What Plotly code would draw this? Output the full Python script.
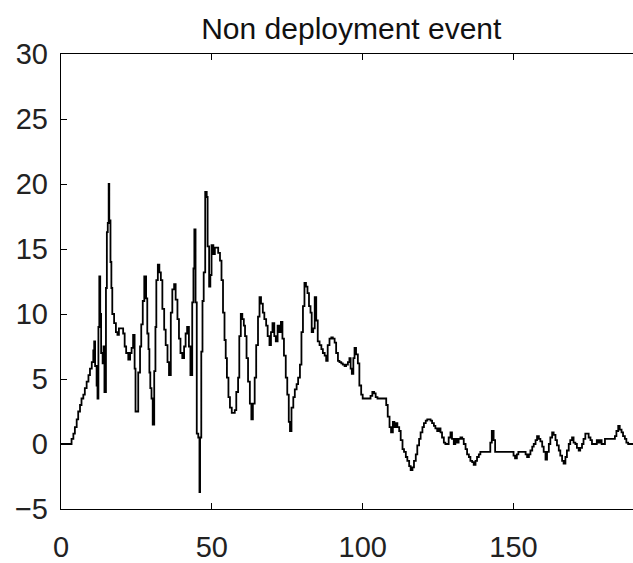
import plotly.graph_objects as go

# Signal samples: time stamps and values (held until the next sample)
t = [0, 3.5, 4.1, 4.6, 5.2, 5.7, 6.3, 6.8, 7.4, 7.9, 8.5, 9.1, 9.6, 10.2, 10.7, 11.0, 11.3, 11.8, 12.1, 12.4,
     12.7, 13.0, 13.3, 13.8, 14.1, 14.4, 14.9, 15.2, 15.5, 15.8, 16.0, 16.4, 16.7, 17.0, 17.6, 18.2, 18.7, 19.2,
     20.6, 21.1, 21.6, 22.3, 22.9, 23.4, 23.9, 24.4, 24.7, 25.6, 26.2, 26.6, 27.1, 27.6, 28.2, 28.6, 29.0, 29.3,
     29.6, 30.0, 30.4, 30.9, 31.3, 31.6, 32.1, 32.6, 33.1, 33.6, 34.2, 34.7, 35.3, 35.8, 36.4, 36.9, 37.5, 38.0,
     38.6, 39.1, 39.6, 40.2, 40.8, 41.3, 41.8, 42.4, 42.9, 43.5, 43.9, 44.2, 44.6, 45.0, 45.5, 45.9, 46.1, 46.5,
     46.9, 47.3, 47.8, 48.3, 48.6, 49.1, 49.5, 49.9, 50.5, 51.0, 52.1, 52.7, 53.2, 53.7, 54.2, 54.6, 55.0, 55.5,
     56.0, 56.6, 57.6, 58.1, 58.7, 59.1, 59.6, 60.1, 60.6, 61.0, 61.5, 62.0, 62.6, 63.1, 63.6, 64.2, 64.7, 65.3,
     65.8, 66.3, 66.9, 67.4, 68.0, 68.5, 69.1, 69.6, 70.1, 70.7, 71.2, 71.8, 72.3, 72.9, 73.4, 73.9, 74.5, 75.0,
     75.5, 75.9, 76.4, 77.0, 77.5, 78.1, 78.6, 79.2, 79.7, 80.2, 80.7, 81.2, 81.7, 82.2, 82.7, 83.1, 83.6, 84.1,
     84.6, 85.1, 85.7, 86.3, 86.8, 87.4, 87.9, 88.4, 89.0, 89.6, 90.1, 90.7, 91.2, 91.8, 92.3, 92.9, 93.4, 94.0,
     94.5, 95.1, 95.6, 96.0, 96.4, 96.9, 97.3, 97.8, 98.4, 98.9, 99.5, 100.0, 102.6, 103.2, 103.8, 104.3, 104.9,
     107.8, 108.3, 108.9, 109.4, 110.0, 110.5, 111.0, 111.5, 112.1, 112.6, 113.2, 113.7, 114.3, 114.8, 115.4,
     115.9, 116.5, 117.0, 117.6, 118.1, 118.7, 119.2, 119.8, 120.3, 120.9, 121.4, 122.5, 123.0, 123.6, 124.1,
     124.7, 125.2, 125.8, 126.3, 126.9, 127.4, 128.5, 129.1, 129.6, 130.2, 130.7, 131.3, 131.8, 132.4, 133.0,
     133.5, 134.1, 134.6, 135.2, 135.7, 136.3, 136.8, 137.4, 137.9, 138.5, 139.0, 142.3, 142.8, 143.4, 143.9,
     150.0, 150.5, 151.1, 151.6, 154.0, 154.5, 155.1, 155.6, 156.2, 156.7, 157.3, 157.8, 158.4, 158.9, 159.5,
     160.0, 160.6, 161.1, 161.7, 162.2, 162.8, 163.3, 163.9, 164.4, 165.0, 165.5, 166.1, 166.6, 167.2, 167.7,
     168.3, 168.8, 169.4, 169.9, 170.5, 171.0, 171.6, 172.1, 172.7, 173.2, 173.8, 174.9, 175.5, 176.0, 177.6,
     178.1, 178.7, 179.2, 180.3, 183.6, 184.1, 184.7, 185.2, 185.8, 186.3, 186.9, 187.4, 188.0, 190.0]

v = [0.0, 0.4, 0.8, 1.3, 1.9, 2.5, 3.0, 3.5, 3.8, 4.3, 4.8, 5.3, 5.8, 6.3, 7.2, 7.9, 6.0, 4.5, 3.5, 9.0,
     12.9, 10.0, 7.0, 6.2, 7.5, 4.0, 12.0, 16.3, 17.0, 20.0, 17.2, 14.0, 12.0, 10.0, 9.3, 8.6, 8.4, 8.9,
     8.5, 7.5, 7.0, 6.5, 7.0, 7.4, 8.4, 5.8, 2.5, 5.5, 7.5, 9.2, 11.0, 12.9, 11.2, 8.5, 7.3, 5.5,
     4.3, 3.5, 1.5, 5.6, 9.0, 12.6, 13.8, 13.2, 12.6, 10.4, 8.8, 7.6, 6.3, 5.3, 10.1, 11.9, 12.3, 11.1,
     9.6, 8.1, 7.0, 6.6, 7.5, 8.5, 9.0, 7.5, 5.3, 10.9, 13.5, 16.5, 10.9, 0.8, 0.5, -3.7, 0.5, 7.1,
     11.0, 13.2, 19.4, 19.0, 15.2, 12.1, 13.0, 15.3, 14.6, 15.1, 14.7, 14.1, 12.6, 10.1, 8.0, 6.6, 5.1, 3.6,
     2.8, 2.4, 2.6, 4.0, 5.1, 8.3, 10.0, 9.6, 9.1, 8.3, 6.6, 4.8, 3.1, 1.9, 3.1, 5.1, 7.6, 9.8,
     11.3, 10.8, 10.1, 9.6, 9.1, 8.3, 7.6, 8.6, 9.3, 8.3, 7.9, 9.1, 8.6, 9.4, 8.1, 6.8, 5.1, 3.8,
     1.7, 1.0, 2.8, 3.6, 4.2, 4.6, 5.1, 6.1, 8.6, 10.6, 12.4, 12.1, 11.6, 10.6, 10.1, 8.6, 8.9, 11.3,
     9.5, 7.9, 7.6, 7.3, 7.0, 6.8, 6.4, 7.6, 8.1, 8.2, 8.1, 7.8, 7.0, 6.4, 6.3, 6.2, 6.1, 6.0,
     6.1, 6.3, 6.6, 5.8, 5.4, 6.6, 7.4, 6.9, 6.2, 4.5, 3.8, 3.5, 3.7, 4.0, 3.9, 3.6, 3.5,
     3.0, 2.1, 1.3, 0.9, 1.7, 1.3, 1.6, 1.3, 1.0, 0.3, -0.4, -0.6, -1.0, -1.3, -1.7,
     -2.0, -1.8, -1.3, -0.8, -0.1, 0.4, 0.9, 1.3, 1.6, 1.8, 1.9, 1.8, 1.6, 1.4, 1.2,
     1.0, 1.2, 0.9, 0.5, 0.1, 0.0, 0.5, 0.9, 0.4, 0.0, 0.4, 0.1, 0.4, 0.5, 0.4,
     0.0, -0.4, -0.8, -1.0, -1.3, -1.4, -1.6, -1.3, -1.0, -0.8, -0.6, 0.1, 1.0, 0.3, -0.6,
     -0.9, -1.1, -0.8, -0.6, -0.8, -1.0, -0.8, -0.5, -0.2, 0.0, 0.3, 0.6, 0.4, 0.2, -0.2,
     -0.6, -1.2, -0.6, 0.0, 0.5, 0.9, 0.7, 0.3, -0.1, -0.5, -0.9, -1.3, -1.5, -1.0, -0.5,
     0.0, 0.3, 0.5, 0.1, 0.0, -0.3, -0.5, -0.3, 0.0, 0.4, 0.8, 0.5, 0.3, 0.0, 0.3,
     0.1, 0.3, 0.0, 0.4, 0.6, 1.0, 1.4, 1.1, 0.9, 0.6, 0.4, 0.1, 0.0, 0.0]

x_ticks = [0, 50, 100, 150]
y_ticks = [-5, 0, 5, 10, 15, 20, 25, 30]
title_text = "Non deployment event"

font_family = "Liberation Sans, Arial, sans-serif"

fig = go.Figure(
    go.Scatter(
        x=t, y=v, mode="lines",
        line=dict(color="black", width=1.8, shape="hv"),
        hoverinfo="skip",
    )
)

fig.update_layout(
    width=633, height=563,
    margin=dict(l=61, r=0, t=54, b=47),
    paper_bgcolor="white", plot_bgcolor="white",
    showlegend=False,
    font=dict(family=font_family, color="#222222", size=28),
    title=dict(
        text=title_text, x=0.555, xanchor="center", y=0.95, yanchor="middle",
        font=dict(family=font_family, size=30, color="#111111"),
    ),
)

fig.update_xaxes(
    range=[0, 189.6], tickvals=x_ticks, ticktext=[str(k) for k in x_ticks],
    ticks="inside", ticklen=6, tickwidth=1.2, tickcolor="black",
    showline=True, linecolor="black", linewidth=1.4, mirror="ticks",
    showgrid=False, zeroline=False, ticklabelstandoff=12,
    tickfont=dict(size=29, color="#222222"),
)
fig.update_yaxes(
    range=[-5, 30], tickvals=y_ticks, ticktext=[str(k).replace("-", "\u2212") for k in y_ticks],
    ticks="inside", ticklen=6, tickwidth=1.2, tickcolor="black",
    showline=True, linecolor="black", linewidth=1.4, mirror=False,
    showgrid=False, zeroline=False, ticklabelstandoff=6,
    tickfont=dict(size=29, color="#222222"),
)

fig.write_html("out.html")
